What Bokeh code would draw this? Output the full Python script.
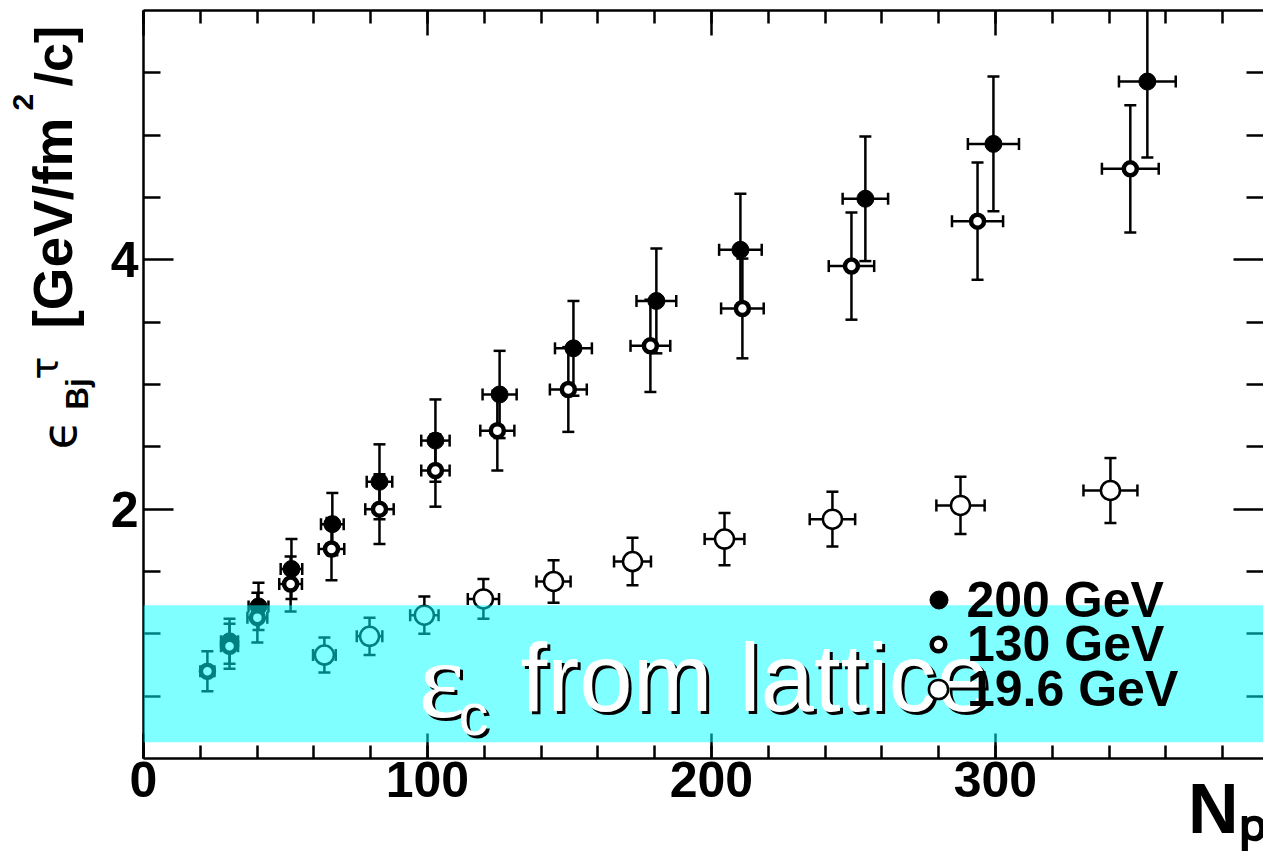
import math
from bokeh.plotting import figure
from bokeh.layouts import row
from bokeh.models import (Whisker, TeeHead, ColumnDataSource, Legend, LegendItem,
                          BoxAnnotation, Label, LinearAxis, FixedTicker, Range1d)
from bokeh.embed import file_html
from bokeh.resources import INLINE

# ---------------- data ----------------
np_200 = [353.5, 299.3, 254.2, 210.2, 180.6, 151.4, 125.4, 102.8, 83.1, 66.5, 52.1, 40.5, 30.3]
e_200 = [5.43, 4.93, 4.49, 4.08, 3.67, 3.29, 2.92, 2.55, 2.22, 1.88, 1.52, 1.22, 0.94]
ey_200 = [0.61, 0.54, 0.50, 0.45, 0.42, 0.38, 0.35, 0.33, 0.30, 0.25, 0.24, 0.19, 0.18]
ex_200 = [10, 9, 8, 7.5, 7, 6.5, 6, 5, 4.5, 4, 3.8, 3.5, 3]

np_130 = [347.5, 293.7, 249.3, 210.9, 178.5, 149.6, 124.6, 102.8, 83.1, 66.2, 51.8, 40.1, 30.3, 22.5]
e_130 = [4.73, 4.31, 3.95, 3.61, 3.31, 2.96, 2.63, 2.31, 2.00, 1.68, 1.40, 1.13, 0.90, 0.70]
ey_130 = [0.51, 0.47, 0.43, 0.40, 0.37, 0.34, 0.32, 0.29, 0.28, 0.25, 0.22, 0.20, 0.18, 0.16]
ex_130 = [10, 9, 8, 7.5, 7, 6.5, 6, 5, 5, 4.5, 4, 3.5, 3, 2.5]

np_19 = [63.7, 79.6, 98.9, 119.7, 144.4, 172.2, 204.6, 242.6, 287.7, 340.5]
e_19 = [0.83, 0.98, 1.15, 1.28, 1.42, 1.58, 1.76, 1.92, 2.03, 2.15]
ey_19 = [0.14, 0.15, 0.15, 0.16, 0.17, 0.19, 0.21, 0.22, 0.23, 0.26]
ex_19 = [4, 4.5, 5, 5.5, 6, 6.5, 7, 8, 8.5, 9.5]

lattice_band = [0.13, 1.23]   # epsilon_c range from lattice

x_ticks = [0, 100, 200, 300]
x_minor = [v for v in range(0, 400, 20)]
y_ticks = [2, 4]
y_minor = [0.5, 1, 1.5, 2.5, 3, 3.5, 4.5, 5, 5.5]

series_labels = ["200 GeV", "130 GeV", "19.6 GeV"]

FONT = "Liberation Sans"
PAGE_H = 851
LEFT_W = 104
FRAME_L = 143           # page x of the frame's left edge
FRAME_T = 10
FRAME_H = 748
FRAME_W = 1120
FRAME_B = FRAME_T + FRAME_H   # page y of the x axis

# ---------------- main figure ----------------
p = figure(frame_width=FRAME_W, frame_height=FRAME_H,
           x_range=Range1d(0, 394.4), y_range=Range1d(0, 6),
           min_border_left=FRAME_L - LEFT_W, min_border_right=0,
           min_border_top=FRAME_T, min_border_bottom=PAGE_H - FRAME_B,
           x_axis_location=None, y_axis_location=None,
           output_backend="svg", toolbar_location=None)
p.outline_line_color = None
p.grid.visible = False
p.background_fill_color = "white"
p.border_fill_color = "white"


def make_axis(ticks, minor, show_labels, major_len, minor_len, line=True):
    ax = LinearAxis(ticker=FixedTicker(ticks=ticks, minor_ticks=minor))
    ax.axis_line_width = 2.5
    ax.axis_line_color = "black" if line else None
    ax.major_tick_line_width = 2.5
    ax.minor_tick_line_width = 2.5
    ax.major_tick_out = 0
    ax.minor_tick_out = 0
    ax.major_tick_in = major_len
    ax.minor_tick_in = minor_len
    if show_labels:
        ax.major_label_text_font = FONT
        ax.major_label_text_font_style = "bold"
        ax.major_label_text_font_size = "50px"
        ax.major_label_text_color = "black"
    else:
        ax.major_label_overrides = {t: "" for t in ticks}
        ax.major_label_text_font_size = "1px"
        ax.major_label_standoff = 0
    return ax


xb = make_axis(x_ticks, x_minor, True, 25, 13)
xb.major_label_standoff = 3
# x title N_p, placed at the end of the axis
xb.axis_label = "N\u209a\u00a0\u00a0\u00a0\u2009"
xb.axis_label_align = "end"
xb.axis_label_text_font = FONT
xb.axis_label_text_font_style = "bold"
xb.axis_label_text_font_size = "70px"
xb.axis_label_text_color = "black"
xb.axis_label_standoff = -30
p.add_layout(xb, "below")

xt = make_axis(x_ticks, x_minor, False, 25, 13)
p.add_layout(xt, "above")
yl = make_axis(y_ticks, y_minor, True, 30, 17)
yl.major_label_standoff = 5
p.add_layout(yl, "left")
yr = make_axis(y_ticks, y_minor, False, 30, 17, line=False)
p.add_layout(yr, "right")

# ---------------- error bars ----------------
def add_errors(xs, ys, exs, eys):
    src = ColumnDataSource(dict(
        x=xs, y=ys,
        ylo=[y - e for y, e in zip(ys, eys)], yhi=[y + e for y, e in zip(ys, eys)],
        xlo=[x - e for x, e in zip(xs, exs)], xhi=[x + e for x, e in zip(xs, exs)]))
    for base, lo, hi, dim in [("x", "ylo", "yhi", "height"), ("y", "xlo", "xhi", "width")]:
        p.add_layout(Whisker(base=base, lower=lo, upper=hi, dimension=dim, source=src,
                             line_width=2.5, line_color="black",
                             upper_head=TeeHead(size=12, line_width=2.5),
                             lower_head=TeeHead(size=12, line_width=2.5)))
    return src

s19 = add_errors(np_19, e_19, ex_19, ey_19)
s200 = add_errors(np_200, e_200, ex_200, ey_200)
s130 = add_errors(np_130, e_130, ex_130, ey_130)

r19 = p.scatter("x", "y", source=s19, marker="circle", size=19,
                fill_color="white", line_color="black", line_width=2.5)
r200 = p.scatter("x", "y", source=s200, marker="circle", size=17,
                 fill_color="black", line_color="black", line_width=1)
r130 = p.scatter("x", "y", source=s130, marker="circle", size=13,
                 fill_color="white", line_color="black", line_width=4.5)

# ---------------- legend (one Legend per entry for exact row placement) ----------------
LEG_CX = 938            # page x of the legend markers
LEG_TX = 967            # page x where legend texts start
LEG_ROWS = [600, 644, 689]   # page y of row centres
LEG_GLYPH = [45, 34, 48]
ROW_H = 57
for lab, rend, cy, g in zip(series_labels, [r200, r130, r19], LEG_ROWS, LEG_GLYPH):
    lg = Legend(items=[LegendItem(label=lab, renderers=[rend])],
                location=(LEG_CX - g / 2 - FRAME_L, FRAME_B - cy - ROW_H / 2),
                background_fill_alpha=0, border_line_color=None,
                padding=0, margin=0, spacing=0,
                glyph_width=g, glyph_height=g,
                label_standoff=int(LEG_TX - (LEG_CX + g / 2)),
                label_text_font=FONT, label_text_font_style="bold",
                label_text_font_size="50px", label_text_color="black")
    p.add_layout(lg, "center")

# ---------------- lattice band (semi-transparent, over everything) ----------------
band = BoxAnnotation(bottom=lattice_band[0], top=lattice_band[1],
                     fill_color="#00FFFF", fill_alpha=0.5, line_color=None,
                     level="overlay")
p.add_layout(band)

# Labels are anchored at the middle of the font box; convert from a baseline
MID = {"Liberation Sans": 0.3465, "Liberation Serif": 0.3375, "DejaVu Sans": 0.346}


def frame_label(text, px, base_py, size, color, font=FONT, style="normal"):
    lab = Label(x=px - FRAME_L, y=(FRAME_B - base_py) + MID[font] * size,
                x_units="screen", y_units="screen", text=text,
                text_font=font, text_font_size=f"{size}px", text_font_style=style,
                text_color=color, text_baseline="alphabetic", text_align="left",
                level="overlay")
    p.add_layout(lab)

for dx, dy, col in [(3, 3, "black"), (0, 0, "white")]:
    frame_label("ε", 418 + dx, 717 + dy, 110, col, font="Liberation Serif")
    frame_label("c", 458 + dx, 735 + dy, 60, col)
    frame_label("from lattice", 520 + dx, 710 + dy, 96, col)

# ---------------- y title in its own narrow panel ----------------
t = figure(width=LEFT_W, height=PAGE_H, x_range=Range1d(0, 1), y_range=Range1d(0, 1),
           min_border=0, x_axis_location=None, y_axis_location=None,
           output_backend="svg", toolbar_location=None)
t.outline_line_color = None
t.grid.visible = False
t.background_fill_color = "white"
t.border_fill_color = "white"

A = math.pi / 2


def vlabel(text, base_px, start_py, size, font=FONT, style="bold"):
    # the frame of this panel is aligned with the main frame (bottom at FRAME_B)
    lab = Label(x=base_px - MID[font] * size, y=FRAME_B - start_py,
                x_units="screen", y_units="screen", text=text, angle=A,
                text_font=font, text_font_size=f"{size}px", text_font_style=style,
                text_color="black", text_baseline="alphabetic", text_align="left")
    t.add_layout(lab)

vlabel("ϵ", 75, 449, 48, font="DejaVu Sans", style="normal")
vlabel("Bj", 88, 409, 31)
vlabel("τ", 58, 379, 38, font="DejaVu Sans", style="normal")
vlabel("[GeV/fm", 72, 328, 55)
vlabel("2", 33, 110, 30)
vlabel("/c]", 72, 86, 52)

layout = row(t, p)
open("out.html", "w").write(file_html(layout, INLINE))
